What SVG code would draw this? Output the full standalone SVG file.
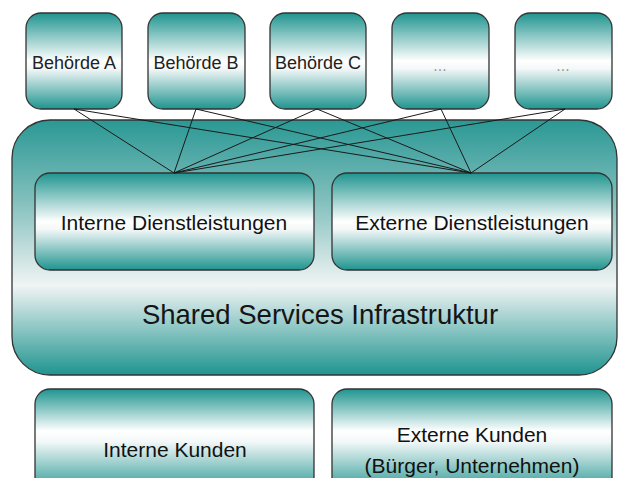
<svg xmlns="http://www.w3.org/2000/svg" width="619" height="478" viewBox="0 0 619 478">
  <defs>
    <!-- teal-white-teal vertical fill used by every box -->
    <linearGradient id="tealBand" x1="0" y1="0" x2="0" y2="1">
      <stop offset="0" stop-color="#1f948f"/>
      <stop offset="0.5" stop-color="#ffffff"/>
      <stop offset="0.58" stop-color="#f4f8f8"/>
      <stop offset="1" stop-color="#1f948f"/>
    </linearGradient>
    <linearGradient id="tealFrame" x1="0" y1="0" x2="0" y2="1">
      <stop offset="0" stop-color="#2a9894"/>
      <stop offset="0.3" stop-color="#7dbdba"/>
      <stop offset="0.65" stop-color="#f0f4f4"/>
      <stop offset="1" stop-color="#1f948f"/>
    </linearGradient>
    <linearGradient id="tealBottom" x1="0" y1="0" x2="0" y2="1">
      <stop offset="0" stop-color="#1f948f"/>
      <stop offset="0.4" stop-color="#ffffff"/>
      <stop offset="0.5" stop-color="#f4f8f8"/>
      <stop offset="1" stop-color="#1f948f"/>
    </linearGradient>
    <style>
      .box { fill: url(#tealBand); stroke: #333; stroke-width: 1.3; }
      .frame { fill: url(#tealFrame); stroke: #333; stroke-width: 1.3; }
      .base { fill: url(#tealBottom); stroke: #333; stroke-width: 1.3; }
      .lbl { font-family: "Liberation Sans", Arial, sans-serif; fill: #111; text-anchor: middle; }
      .small { font-size: 18px; fill: #222; }
      .mid { font-size: 21px; }
      .big { font-size: 27.5px; fill: #151515; }
      .dots { font-size: 16px; fill: #999; }
      .link { stroke: #1a1a1a; stroke-width: 1; fill: none; }
    </style>
  </defs>

  <rect width="619" height="478" fill="#ffffff"/>

  <!-- shared infrastructure frame -->
  <g id="infrastruktur">
    <rect class="frame" x="12" y="120" width="605" height="255" rx="38" ry="38"/>
    <text class="lbl big" x="320" y="324">Shared Services Infrastruktur</text>
  </g>

  <g id="interne-dienste">
    <rect class="box" x="35" y="173" width="279" height="97" rx="15" ry="15"/>
    <text class="lbl mid" x="174" y="230">Interne Dienstleistungen</text>
  </g>
  <g id="externe-dienste">
    <rect class="box" x="332" y="173" width="280" height="97" rx="15" ry="15"/>
    <text class="lbl mid" x="472" y="230">Externe Dienstleistungen</text>
  </g>

  <!-- authorities -->
  <g id="behoerde-a">
    <rect class="box" x="26" y="13" width="96" height="96" rx="15" ry="15"/>
    <text class="lbl small" x="74" y="69">Behörde A</text>
  </g>
  <g id="behoerde-b">
    <rect class="box" x="148" y="13" width="97" height="96" rx="15" ry="15"/>
    <text class="lbl small" x="196" y="69">Behörde B</text>
  </g>
  <g id="behoerde-c">
    <rect class="box" x="270" y="13" width="96" height="96" rx="15" ry="15"/>
    <text class="lbl small" x="318" y="69">Behörde C</text>
  </g>
  <g id="behoerde-4">
    <rect class="box" x="392" y="13" width="97" height="96" rx="15" ry="15"/>
    <text class="lbl dots" x="440" y="71">...</text>
  </g>
  <g id="behoerde-5">
    <rect class="box" x="515" y="13" width="97" height="96" rx="15" ry="15"/>
    <text class="lbl dots" x="563" y="71">...</text>
  </g>

  <!-- every authority links to both service groups -->
  <g id="connectors">
    <line class="link" x1="74" y1="109" x2="174" y2="173"/>
    <line class="link" x1="74" y1="109" x2="471" y2="173"/>
    <line class="link" x1="196" y1="109" x2="174" y2="173"/>
    <line class="link" x1="196" y1="109" x2="471" y2="173"/>
    <line class="link" x1="317" y1="109" x2="174" y2="173"/>
    <line class="link" x1="317" y1="109" x2="471" y2="173"/>
    <line class="link" x1="441" y1="109" x2="174" y2="173"/>
    <line class="link" x1="441" y1="109" x2="471" y2="173"/>
    <line class="link" x1="565" y1="109" x2="174" y2="173"/>
    <line class="link" x1="565" y1="109" x2="471" y2="173"/>
  </g>

  <!-- customers -->
  <g id="interne-kunden">
    <rect class="base" x="35" y="389" width="279" height="105" rx="15" ry="15"/>
    <text class="lbl mid" x="175" y="457">Interne Kunden</text>
  </g>
  <g id="externe-kunden">
    <rect class="base" x="332" y="389" width="280" height="105" rx="15" ry="15"/>
    <text class="lbl mid" x="472" y="442">Externe Kunden</text>
    <text class="lbl mid" x="472" y="473">(Bürger, Unternehmen)</text>
  </g>
</svg>
